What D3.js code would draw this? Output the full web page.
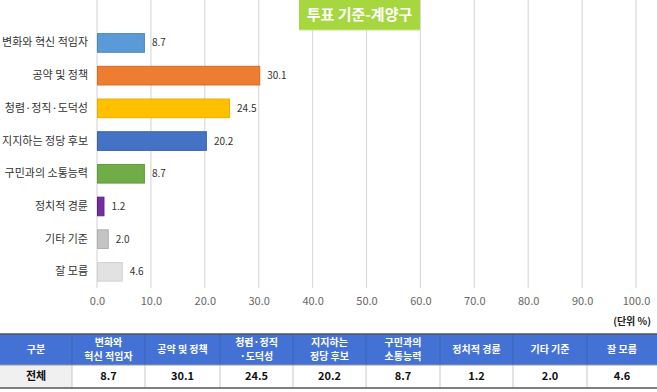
<!DOCTYPE html>
<html><head><meta charset="utf-8">
<script src="https://cdn.jsdelivr.net/npm/d3@7"></script>
<style>
body{margin:0;background:#fff;}
svg{display:block;font-family:"Noto Sans CJK KR","Noto Sans",sans-serif;}
</style></head>
<body><svg id="c" width="657" height="392"></svg>
<script>
const title = "투표 기준-계양구";
const categories = ["변화와 혁신 적임자","공약 및 정책","청렴·정직·도덕성","지지하는 정당 후보","구민과의 소통능력","정치적 경륜","기타 기준","잘 모름"];
const tableHeaders = [["변화와","혁신 적임자"],["공약 및 정책"],["청렴·정직","·도덕성"],["지지하는","정당 후보"],["구민과의","소통능력"],["정치적 경륜"],["기타 기준"],["잘 모름"]];
const values = [8.7,30.1,24.5,20.2,8.7,1.2,2.0,4.6];
const colors = ["#5b9bd5","#ed7d31","#ffc000","#4472c4","#70ad47","#7030a0","#c3c3c3","#e2e2e2"];
const strokes = ["#4a86c0","#d86a20","#e8ad00","#3862b0","#5f9a38","#5e2090","#b0b0b0","#d2d2d2"];
const ticks = [0,10,20,30,40,50,60,70,80,90,100];
const unitLabel = "(단위 %)";
const rowLabel = "전체";
const firstHeader = "구분";

const svg = d3.select("#c");
const x = d3.scaleLinear().domain([0,100]).range([97,636]);
const y = d3.scaleBand().domain(categories).range([26.6,288.2]).paddingInner(0.43).paddingOuter(0.215);

// gridlines
svg.append("g").selectAll("line").data(ticks).join("line")
  .attr("x1",d=>x(d)).attr("x2",d=>x(d)).attr("y1",0).attr("y2",288)
  .attr("stroke","#d9d9d9").attr("stroke-width",1.2);

// x axis labels
const xa = d3.axisBottom(x).tickValues(ticks).tickFormat(d3.format(".1f")).tickSize(0).tickPadding(0);
const gx = svg.append("g").attr("transform","translate(0,297)").call(xa);
gx.select(".domain").remove();
gx.selectAll("text").attr("fill","#666").attr("font-size","11px").attr("font-family","'Noto Sans CJK KR',sans-serif");

// y axis labels
const ya = d3.axisLeft(y).tickSize(0).tickPadding(0);
const gy = svg.append("g").attr("transform","translate(88,0)").call(ya);
gy.select(".domain").remove();
gy.selectAll("text").attr("fill","#333").attr("font-size","11px").attr("font-family","'Noto Sans CJK KR',sans-serif");

// bars
svg.append("g").selectAll("rect").data(values).join("rect")
  .attr("x",x(0)+0.5).attr("y",(d,i)=>y(categories[i]))
  .attr("width",d=>x(d)-x(0)).attr("height",y.bandwidth())
  .attr("fill",(d,i)=>colors[i]).attr("stroke",(d,i)=>strokes[i]).attr("stroke-width",1);

// value labels
svg.append("g").selectAll("text").data(values).join("text")
  .attr("x",d=>x(d)+8).attr("y",(d,i)=>y(categories[i])+y.bandwidth()/2)
  .attr("dy","0.35em").attr("font-size","10px").attr("fill","#333")
  .text(d=>d.toFixed(1));

// title box
svg.append("rect").attr("x",299).attr("y",0).attr("width",121).attr("height",30).attr("fill","#a6d73f");
svg.append("line").attr("x1",299).attr("x2",420).attr("y1",30).attr("y2",30).attr("stroke","#c8e88a").attr("stroke-width",1.2);
svg.append("text").attr("x",359.5).attr("y",15).attr("dy","0.35em").attr("text-anchor","middle")
  .attr("fill","#fff").attr("font-weight","bold").attr("font-size","15px").text(title);

// unit label
svg.append("text").attr("x",651).attr("y",325).attr("text-anchor","end").attr("font-size","10px")
  .attr("font-weight","bold").attr("fill","#222").text(unitLabel);

// table
const colEdges = [0,72,145,220,293,366,440,513,587,657];
const tTop = 334, hBot = 365, tBot = 388;
svg.append("rect").attr("x",0).attr("y",tTop).attr("width",657).attr("height",hBot-tTop).attr("fill","#4472d4");
svg.append("rect").attr("x",0).attr("y",hBot).attr("width",72).attr("height",tBot-hBot).attr("fill","#f0f0f0");
// dividers
colEdges.slice(1,-1).forEach(e=>{
  svg.append("line").attr("x1",e).attr("x2",e).attr("y1",tTop).attr("y2",hBot).attr("stroke","#3a62b8").attr("stroke-width",1);
  svg.append("line").attr("x1",e).attr("x2",e).attr("y1",hBot).attr("y2",tBot).attr("stroke","#c8c8c8").attr("stroke-width",1);
});
svg.append("line").attr("x1",0).attr("x2",657).attr("y1",tTop).attr("y2",tTop).attr("stroke","#555").attr("stroke-width",1.5);
svg.append("line").attr("x1",0).attr("x2",657).attr("y1",hBot).attr("y2",hBot).attr("stroke","#999").attr("stroke-width",1);
svg.append("line").attr("x1",0).attr("x2",657).attr("y1",tBot).attr("y2",tBot).attr("stroke","#555").attr("stroke-width",1.5);

const heads = [[firstHeader]].concat(tableHeaders);
heads.forEach((h,i)=>{
  const cx = (colEdges[i]+colEdges[i+1])/2;
  const cy = (tTop+hBot)/2;
  h.forEach((line,j)=>{
    svg.append("text").attr("x",cx).attr("text-anchor","middle").attr("fill","#fff")
      .attr("font-size","10px").attr("font-weight","bold")
      .attr("y",cy + (j-(h.length-1)/2)*14.6).attr("dy","0.35em").text(line);
  });
});
const rowVals = [rowLabel].concat(values.map(v=>v.toFixed(1)));
rowVals.forEach((v,i)=>{
  const cx = (colEdges[i]+colEdges[i+1])/2;
  svg.append("text").attr("x",cx).attr("y",(hBot+tBot)/2).attr("dy","0.35em").attr("text-anchor","middle")
    .attr("font-size","11px").attr("font-weight","bold").attr("fill","#111").text(v);
});
</script></body></html>
